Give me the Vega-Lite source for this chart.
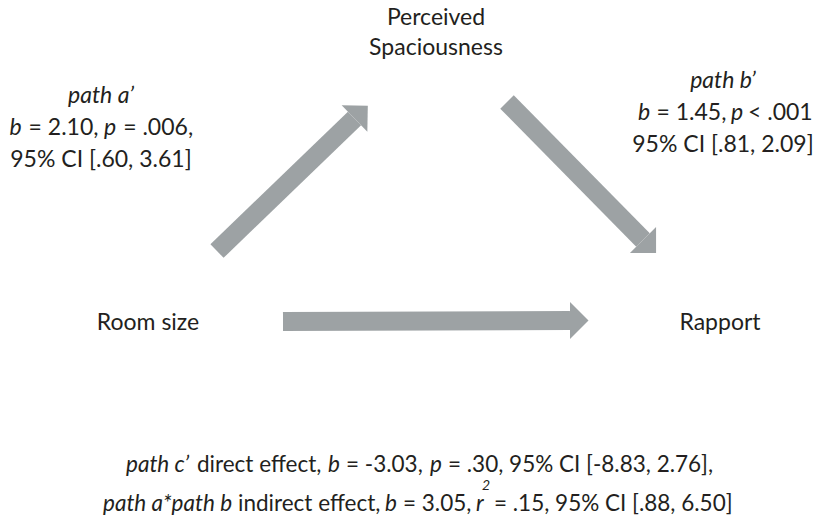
{
  "$schema": "https://vega.github.io/schema/vega-lite/v6.json",
  "width": 817,
  "height": 521,
  "autosize": {"type": "fit", "contains": "padding"},
  "padding": 0,
  "background": "white",
  "config": {"view": {"stroke": null}},
  "datasets": {
    "shafts": [
      {"path": "a", "x": 217, "y": 251, "x2": 354.5, "y2": 118.5},
      {"path": "b", "x": 507, "y": 102, "x2": 643, "y2": 240},
      {"path": "c", "x": 283, "y": 321.5, "x2": 570, "y2": 320.5}
    ],
    "heads": [
      {"path": "a", "x": 354.5, "y": 118.5, "angle": 316},
      {"path": "b", "x": 643, "y": 240, "angle": 45},
      {"path": "c", "x": 570, "y": 320.5, "angle": 0}
    ],
    "labels": [
      {"kind": "rc", "text": "Perceived", "x": 436, "y": 25},
      {"kind": "rc", "text": "Spaciousness", "x": 436, "y": 55},
      {"kind": "rc", "text": "95% CI [.60, 3.61]", "x": 101, "y": 167},
      {"kind": "rc", "text": "95% CI [.81, 2.09]", "x": 723, "y": 152},
      {"kind": "rc", "text": "Room size", "x": 148, "y": 330},
      {"kind": "rc", "text": "Rapport", "x": 720, "y": 330},
      {"kind": "ic", "text": "path a’", "x": 101, "y": 103},
      {"kind": "ic", "text": "path b’", "x": 723, "y": 88},
      {"kind": "il", "text": "b", "x": 9.5, "y": 135},
      {"kind": "rl", "text": "= 2.10,", "x": 28.6, "y": 135},
      {"kind": "il", "text": "p", "x": 104.1, "y": 135},
      {"kind": "rl", "text": "= .006,", "x": 123.2, "y": 135},
      {"kind": "il", "text": "b", "x": 638, "y": 120},
      {"kind": "rl", "text": "= 1.45,", "x": 656.5, "y": 120},
      {"kind": "il", "text": "p", "x": 731, "y": 120},
      {"kind": "rl", "text": "< .001", "x": 748, "y": 120},
      {"kind": "bil", "text": "path c’", "x": 126, "y": 472},
      {"kind": "brl", "text": "direct effect,", "x": 197, "y": 472},
      {"kind": "bil", "text": "b", "x": 328, "y": 472},
      {"kind": "brl", "text": "= -3.03,", "x": 346, "y": 472},
      {"kind": "bil", "text": "p", "x": 430, "y": 472},
      {"kind": "brl", "text": "= .30, 95% CI [-8.83, 2.76],", "x": 448, "y": 472},
      {"kind": "bil", "text": "path a*path b", "x": 103, "y": 511},
      {"kind": "brl", "text": "indirect effect,", "x": 238, "y": 511},
      {"kind": "bil", "text": "b", "x": 385, "y": 511},
      {"kind": "brl", "text": "= 3.05,", "x": 403, "y": 511},
      {"kind": "bil", "text": "r", "x": 476, "y": 511},
      {"kind": "sup", "text": "2", "x": 482, "y": 490},
      {"kind": "brl", "text": "= .15, 95% CI [.88, 6.50]", "x": 494, "y": 511}
    ]
  },
  "layer": [
    {
      "data": {"name": "shafts"},
      "mark": {"type": "rule", "strokeWidth": 19, "strokeCap": "butt", "color": "#9da2a4"},
      "encoding": {
        "x": {"field": "x", "type": "quantitative", "scale": {"domain": [0, 817], "nice": false, "zero": false}, "axis": null},
        "y": {"field": "y", "type": "quantitative", "scale": {"domain": [0, 521], "nice": false, "zero": false, "reverse": true}, "axis": null},
        "x2": {"field": "x2"},
        "y2": {"field": "y2"}
      }
    },
    {
      "data": {"name": "heads"},
      "mark": {"type": "point", "shape": "M0,-1L1,0L0,1Z", "filled": true, "opacity": 1, "size": 1369, "color": "#9da2a4", "strokeWidth": 0},
      "encoding": {
        "x": {"field": "x", "type": "quantitative", "scale": {"domain": [0, 817], "nice": false, "zero": false}, "axis": null},
        "y": {"field": "y", "type": "quantitative", "scale": {"domain": [0, 521], "nice": false, "zero": false, "reverse": true}, "axis": null},
        "angle": {"field": "angle", "type": "quantitative", "scale": null}
      }
    },
    {
      "data": {"name": "labels"},
      "transform": [{"filter": "datum.kind === 'rc'"}],
      "mark": {"type": "text", "font": "Lato", "fontSize": 23, "align": "center", "baseline": "alphabetic", "color": "#231f20"},
      "encoding": {
        "x": {"field": "x", "type": "quantitative", "scale": {"domain": [0, 817], "nice": false, "zero": false}, "axis": null},
        "y": {"field": "y", "type": "quantitative", "scale": {"domain": [0, 521], "nice": false, "zero": false, "reverse": true}, "axis": null},
        "text": {"field": "text"}
      }
    },
    {
      "data": {"name": "labels"},
      "transform": [{"filter": "datum.kind === 'ic'"}],
      "mark": {"type": "text", "font": "Lato", "fontSize": 23, "fontStyle": "italic", "align": "center", "baseline": "alphabetic", "color": "#231f20"},
      "encoding": {
        "x": {"field": "x", "type": "quantitative", "scale": {"domain": [0, 817], "nice": false, "zero": false}, "axis": null},
        "y": {"field": "y", "type": "quantitative", "scale": {"domain": [0, 521], "nice": false, "zero": false, "reverse": true}, "axis": null},
        "text": {"field": "text"}
      }
    },
    {
      "data": {"name": "labels"},
      "transform": [{"filter": "datum.kind === 'rl'"}],
      "mark": {"type": "text", "font": "Lato", "fontSize": 23, "align": "left", "baseline": "alphabetic", "color": "#231f20"},
      "encoding": {
        "x": {"field": "x", "type": "quantitative", "scale": {"domain": [0, 817], "nice": false, "zero": false}, "axis": null},
        "y": {"field": "y", "type": "quantitative", "scale": {"domain": [0, 521], "nice": false, "zero": false, "reverse": true}, "axis": null},
        "text": {"field": "text"}
      }
    },
    {
      "data": {"name": "labels"},
      "transform": [{"filter": "datum.kind === 'il'"}],
      "mark": {"type": "text", "font": "Lato", "fontSize": 23, "fontStyle": "italic", "align": "left", "baseline": "alphabetic", "color": "#231f20"},
      "encoding": {
        "x": {"field": "x", "type": "quantitative", "scale": {"domain": [0, 817], "nice": false, "zero": false}, "axis": null},
        "y": {"field": "y", "type": "quantitative", "scale": {"domain": [0, 521], "nice": false, "zero": false, "reverse": true}, "axis": null},
        "text": {"field": "text"}
      }
    },
    {
      "data": {"name": "labels"},
      "transform": [{"filter": "datum.kind === 'brl'"}],
      "mark": {"type": "text", "font": "Lato", "fontSize": 22.5, "align": "left", "baseline": "alphabetic", "color": "#231f20"},
      "encoding": {
        "x": {"field": "x", "type": "quantitative", "scale": {"domain": [0, 817], "nice": false, "zero": false}, "axis": null},
        "y": {"field": "y", "type": "quantitative", "scale": {"domain": [0, 521], "nice": false, "zero": false, "reverse": true}, "axis": null},
        "text": {"field": "text"}
      }
    },
    {
      "data": {"name": "labels"},
      "transform": [{"filter": "datum.kind === 'bil'"}],
      "mark": {"type": "text", "font": "Lato", "fontSize": 22.5, "fontStyle": "italic", "align": "left", "baseline": "alphabetic", "color": "#231f20"},
      "encoding": {
        "x": {"field": "x", "type": "quantitative", "scale": {"domain": [0, 817], "nice": false, "zero": false}, "axis": null},
        "y": {"field": "y", "type": "quantitative", "scale": {"domain": [0, 521], "nice": false, "zero": false, "reverse": true}, "axis": null},
        "text": {"field": "text"}
      }
    },
    {
      "data": {"name": "labels"},
      "transform": [{"filter": "datum.kind === 'sup'"}],
      "mark": {"type": "text", "font": "Lato", "fontSize": 14, "fontStyle": "italic", "align": "left", "baseline": "alphabetic", "color": "#231f20"},
      "encoding": {
        "x": {"field": "x", "type": "quantitative", "scale": {"domain": [0, 817], "nice": false, "zero": false}, "axis": null},
        "y": {"field": "y", "type": "quantitative", "scale": {"domain": [0, 521], "nice": false, "zero": false, "reverse": true}, "axis": null},
        "text": {"field": "text"}
      }
    }
  ]
}
